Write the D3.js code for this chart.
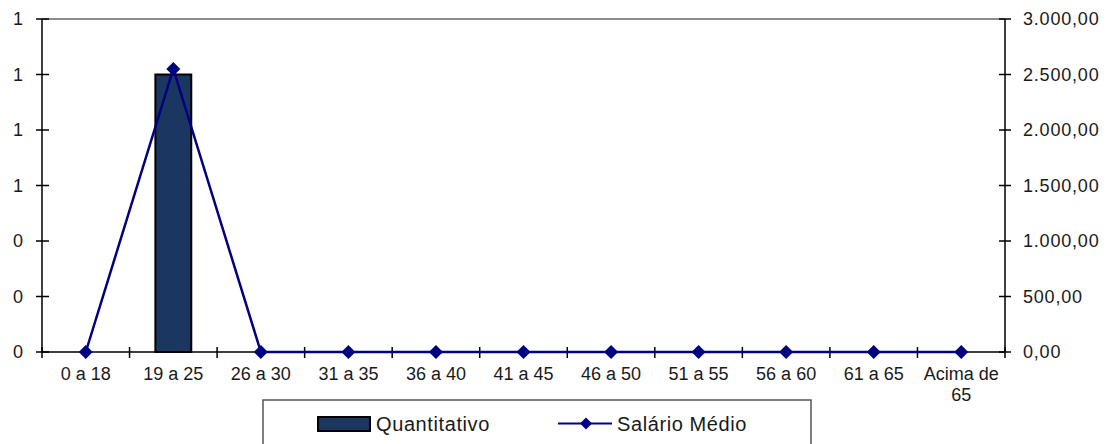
<!DOCTYPE html>
<html>
<head>
<meta charset="utf-8">
<script src="https://cdn.jsdelivr.net/npm/d3@7"></script>
<style>
  body { margin: 0; background: #fff; }
  text { font-family: "Liberation Sans", Arial, sans-serif; fill: #1a1a1a; }
</style>
</head>
<body>
<svg id="chart" width="1117" height="444"></svg>
<script>
// data
var categories = ["0 a 18", "19 a 25", "26 a 30", "31 a 35", "36 a 40", "41 a 45",
   "46 a 50", "51 a 55", "56 a 60", "61 a 65", "Acima de 65"];
var quantitativo = [0, 1, 0, 0, 0, 0, 0, 0, 0, 0, 0];
var salarioMedio = [0, 2550, 0, 0, 0, 0, 0, 0, 0, 0, 0];
var leftTicks = [0, 0.2, 0.4, 0.6, 0.8, 1.0, 1.2];
var rightTicks = [0, 500, 1000, 1500, 2000, 2500, 3000];

var data = categories.map(function (c, i) {
   return { cat: c, q: quantitativo[i], s: salarioMedio[i] };
});

var plot = { left: 42, right: 1005, top: 19, bottom: 352 };
var svg = d3.select("svg#chart");

var ptBR = d3.formatLocale({ decimal: ",", thousands: ".", grouping: [3], currency: ["R$", ""] });

var x = d3.scaleBand().domain(categories).range([plot.left, plot.right]).padding(0);
var yL = d3.scaleLinear().domain([0, 1.2]).range([plot.bottom, plot.top]);
var yR = d3.scaleLinear().domain([0, 3000]).range([plot.bottom, plot.top]);

// top border line (gray)
svg.append("line")
   .attr("x1", plot.left).attr("x2", plot.right)
   .attr("y1", plot.top).attr("y2", plot.top)
   .attr("stroke", "#8c8c8c").attr("stroke-width", 2);

// bars
var barW = x.bandwidth() * 0.41;
svg.append("g").selectAll("rect")
   .data(data)
   .enter()
   .filter(function (d) { return d.q > 0; })
   .append("rect")
   .attr("x", function (d) { return x(d.cat) + (x.bandwidth() - barW) / 2; })
   .attr("y", function (d) { return yL(d.q); })
   .attr("width", barW)
   .attr("height", function (d) { return yL(0) - yL(d.q); })
   .attr("fill", "#1b3660")
   .attr("stroke", "#000")
   .attr("stroke-width", 2);

// left axis
var gL = svg.append("g").attr("transform", "translate(" + plot.left + ",0)");
gL.append("line").attr("y1", plot.top).attr("y2", plot.bottom).attr("stroke", "#000").attr("stroke-width", 1.5);
gL.selectAll(".tk").data(leftTicks).enter().append("line")
   .attr("x1", -6).attr("x2", 7)
   .attr("y1", function (d) { return yL(d); }).attr("y2", function (d) { return yL(d); })
   .attr("stroke", "#000").attr("stroke-width", 1.5);
gL.selectAll(".lb").data(leftTicks).enter().append("text")
   .attr("x", -19).attr("y", function (d) { return yL(d); })
   .attr("dy", "0.35em").attr("text-anchor", "end")
   .style("font-size", "18px")
   .text(function (d) { return d3.format(".0f")(d); });

// right axis
var gR = svg.append("g").attr("transform", "translate(" + plot.right + ",0)");
gR.append("line").attr("y1", plot.top).attr("y2", plot.bottom).attr("stroke", "#000").attr("stroke-width", 1.5);
gR.selectAll(".tk").data(rightTicks).enter().append("line")
   .attr("x1", -6).attr("x2", 6)
   .attr("y1", function (d) { return yR(d); }).attr("y2", function (d) { return yR(d); })
   .attr("stroke", "#000").attr("stroke-width", 1.5);
gR.selectAll(".lb").data(rightTicks).enter().append("text")
   .attr("x", 18).attr("y", function (d) { return yR(d); })
   .attr("dy", "0.35em")
   .style("font-size", "18px").style("letter-spacing", "0.8px")
   .text(function (d) { return ptBR.format(",.2f")(d); });

// bottom axis
var gB = svg.append("g");
gB.append("line").attr("x1", plot.left).attr("x2", plot.right)
   .attr("y1", plot.bottom).attr("y2", plot.bottom).attr("stroke", "#000").attr("stroke-width", 1.5);
var bounds = categories.map(function (c) { return x(c); }).concat([plot.right]);
gB.selectAll(".tk").data(bounds).enter().append("line")
   .attr("x1", function (d) { return d; }).attr("x2", function (d) { return d; })
   .attr("y1", plot.bottom - 5).attr("y2", plot.bottom + 6)
   .attr("stroke", "#000").attr("stroke-width", 1.5);
var xl = gB.selectAll(".lb").data(categories).enter().append("text")
   .attr("text-anchor", "middle")
   .attr("y", 380)
   .style("font-size", "18px");
xl.each(function (c) {
   var t = d3.select(this);
   var cx = x(c) + x.bandwidth() / 2;
   var parts = c === "Acima de 65" ? ["Acima de", "65"] : [c];
   parts.forEach(function (p, i) {
      t.append("tspan").attr("x", cx).attr("dy", i === 0 ? 0 : 21).text(p);
   });
});

// line (salario medio)
var lineGen = d3.line()
   .x(function (d) { return x(d.cat) + x.bandwidth() / 2; })
   .y(function (d) { return yR(d.s); });
svg.append("path").datum(data)
   .attr("fill", "none").attr("stroke", "#000080").attr("stroke-width", 2.5)
   .attr("d", lineGen);

function diamondPath(r) {
   return "M0," + (-r) + "L" + r + ",0L0," + r + "L" + (-r) + ",0Z";
}
svg.append("g").selectAll("path")
   .data(data).enter().append("path")
   .attr("transform", function (d) {
      return "translate(" + (x(d.cat) + x.bandwidth() / 2) + "," + yR(d.s) + ")";
   })
   .attr("d", diamondPath(7))
   .attr("fill", "#000080");

// legend
var lg = svg.append("g");
lg.append("rect").attr("x", 263).attr("y", 400).attr("width", 548).attr("height", 60)
   .attr("fill", "#fff").attr("stroke", "#555").attr("stroke-width", 1.5);
lg.append("rect").attr("x", 318).attr("y", 417).attr("width", 52).attr("height", 14)
   .attr("fill", "#1b3660").attr("stroke", "#000").attr("stroke-width", 2);
lg.append("text").attr("x", 376).attr("y", 431).style("font-size", "20px").style("letter-spacing", "0.6px")
   .text("Quantitativo");
lg.append("line").attr("x1", 558).attr("x2", 612).attr("y1", 423.5).attr("y2", 423.5)
   .attr("stroke", "#000080").attr("stroke-width", 2);
lg.append("path").attr("transform", "translate(586,423.5)")
   .attr("d", diamondPath(6)).attr("fill", "#000080");
lg.append("text").attr("x", 617).attr("y", 431).style("font-size", "20px").style("letter-spacing", "0.6px")
   .text("Salário Médio");
</script>
</body>
</html>
